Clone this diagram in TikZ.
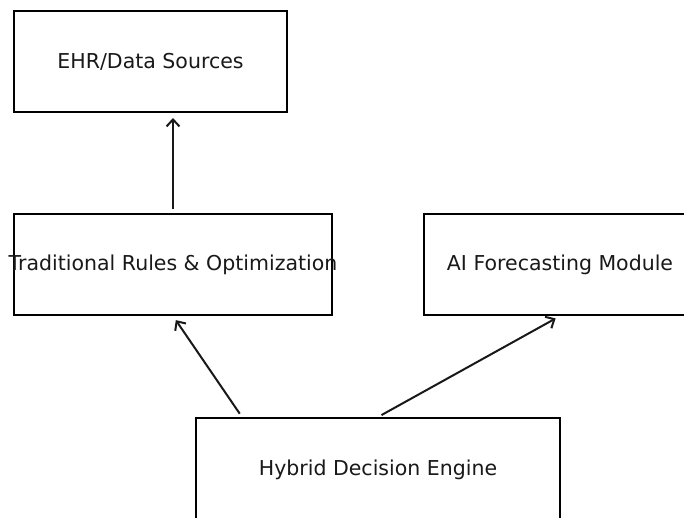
\documentclass[tikz,border=0pt]{standalone}
\usepackage{fontspec}
\setmainfont{DejaVu Sans}
\usetikzlibrary{arrows.meta}
\begin{document}
\begin{tikzpicture}[x=1pt,y=-1pt,
  blk/.style={draw=black, line width=2pt, inner sep=0pt, anchor=center,
    font=\fontsize{20.5}{24}\selectfont, text=black!90},
  flow/.style={draw=black!90, line width=2pt,
    -{Straight Barb[length=7pt,width=13pt,line width=2pt]},
    shorten <=4pt, shorten >=5pt}]
  \useasboundingbox (0,0) rectangle (684,517);
  \clip (0,0) rectangle (684,517);
  \fill[white] (0,0) rectangle (684,517);

  % component boxes (labels may run past the frame, as the long one does)
  \node[blk, minimum width=273pt, minimum height=101pt] (ehr) at (150.5,61.5) {\makebox[0pt]{EHR/Data Sources}};
  \node[blk, minimum width=318pt, minimum height=101pt] (trad) at (173,264.5) {\makebox[0pt]{Traditional Rules \& Optimization}};
  \node[blk, minimum width=272pt, minimum height=101pt] (ai) at (560,264.5) {\makebox[0pt]{AI Forecasting Module}};
  \node[blk, minimum width=364pt, minimum height=103pt] (hyb) at (378,469.5) {\makebox[0pt]{Hybrid Decision Engine}};
  \coordinate (ehrin) at (trad.north |- ehr.south);

  % data flow
  \draw[flow] (trad.north) -- (ehrin);
  \draw[flow] ([xshift=-136pt]hyb.north) -- (trad.south);
  \draw[flow] (hyb.north) -- (ai.south);
\end{tikzpicture}
\end{document}
